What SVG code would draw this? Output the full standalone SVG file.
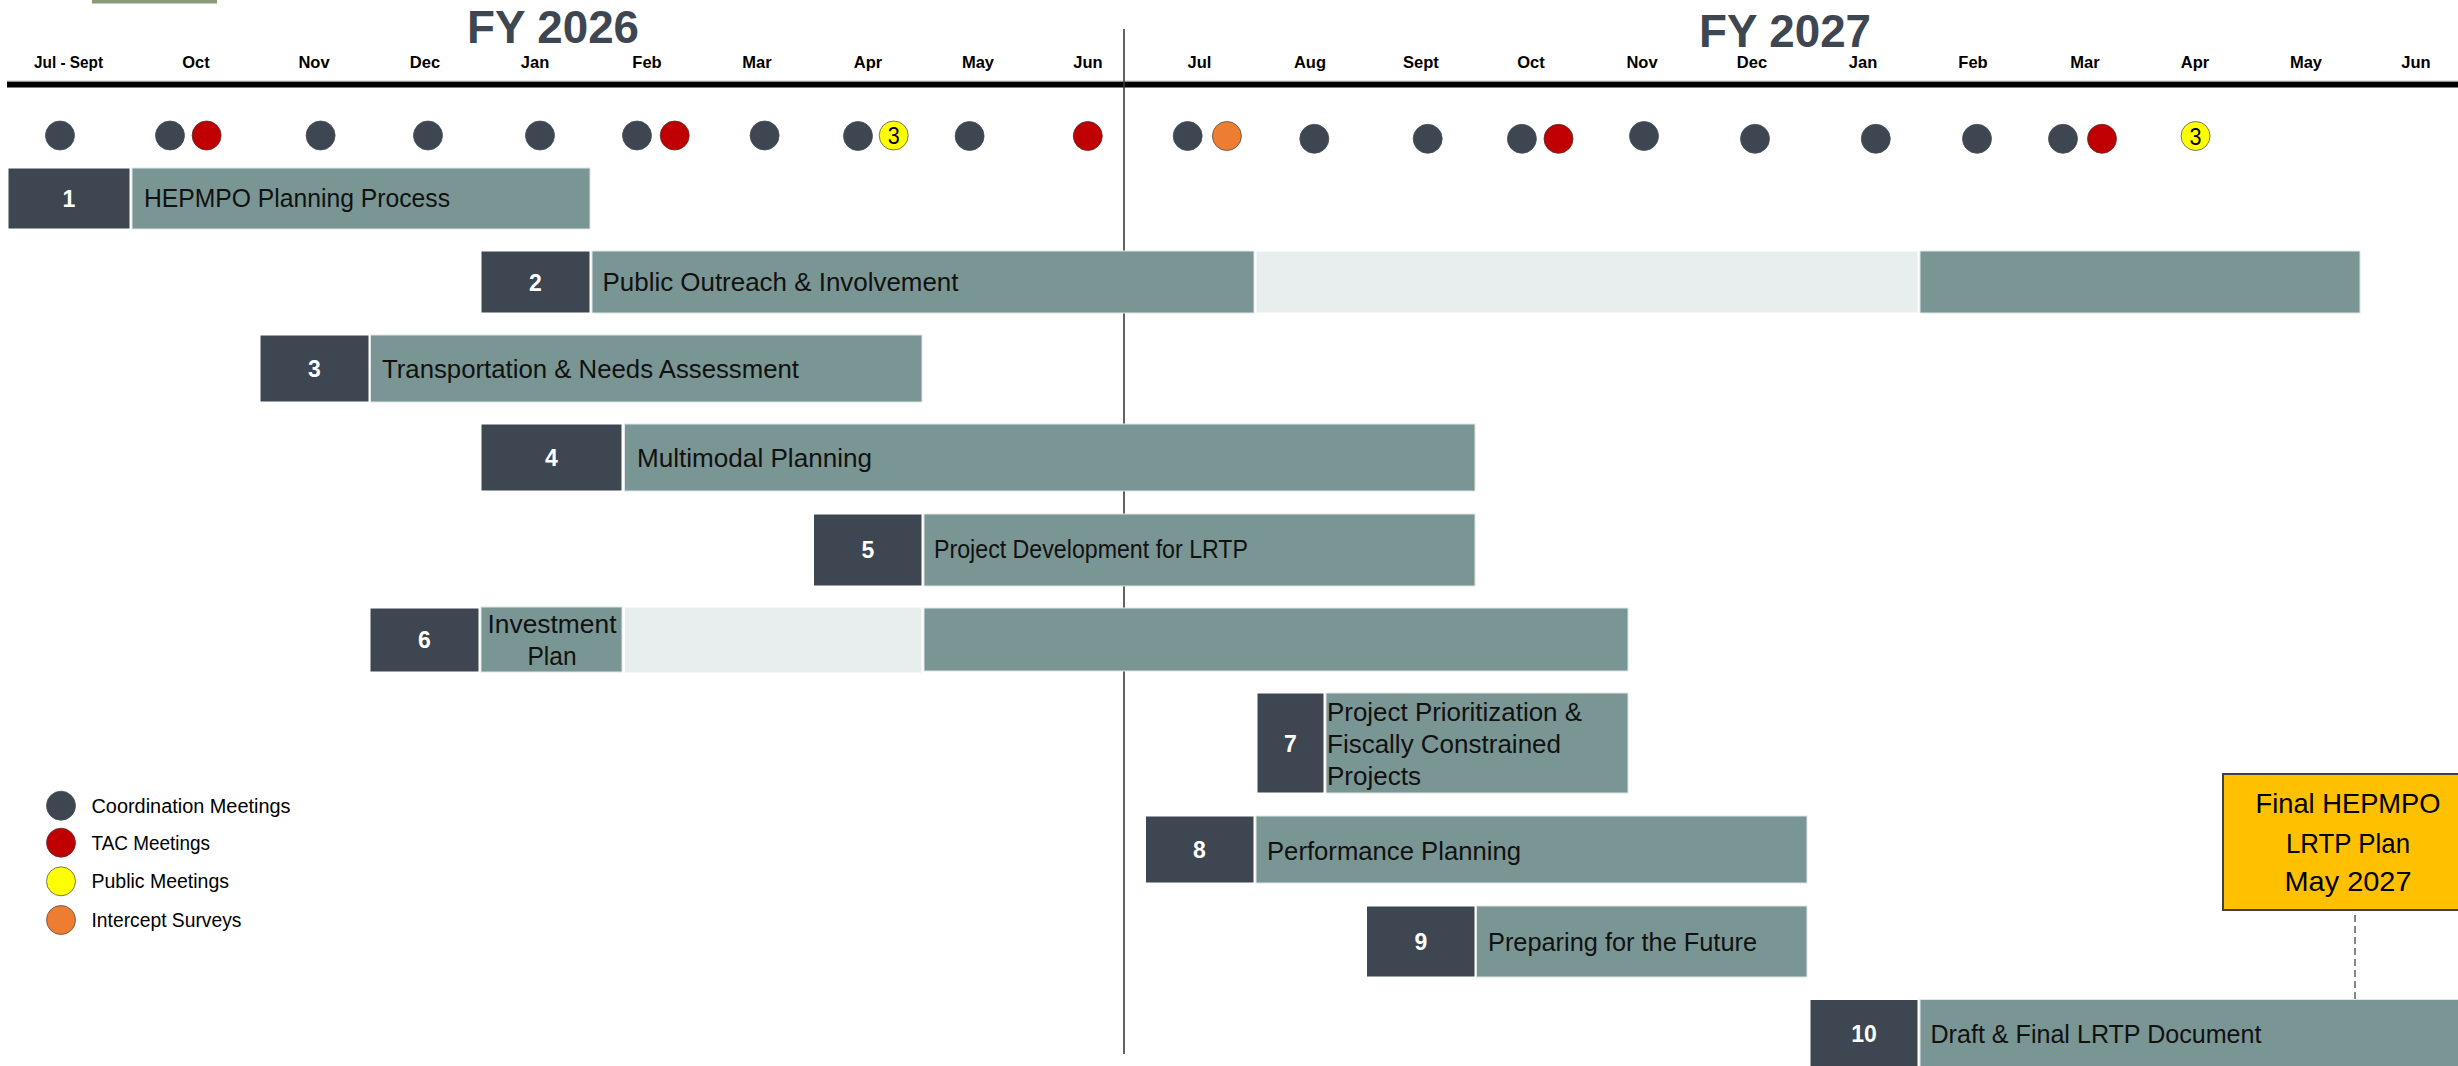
<svg xmlns="http://www.w3.org/2000/svg" width="2458" height="1066" viewBox="0 0 2458 1066">
<style>
.bg{fill:#ffffff}
.num{fill:#3d4651;stroke:#ffffff;stroke-width:1}
.bar{fill:#7a9694;stroke:#dfe6e5;stroke-width:1}
.lite{fill:#e8eeee;stroke:#ffffff;stroke-width:1}
.nt{font-family:"Liberation Sans",Arial,sans-serif;font-weight:bold;font-size:23px;fill:#ffffff;text-anchor:middle}
.lt{font-family:"Liberation Sans Narrow","Liberation Sans",Arial,sans-serif;font-size:25px;fill:#111111}
.mo{font-family:"Liberation Sans",Arial,sans-serif;font-weight:bold;font-size:16.5px;fill:#000000;text-anchor:middle}
.fy{font-family:"Liberation Sans",Arial,sans-serif;font-weight:bold;font-size:46px;fill:#3d4651;text-anchor:middle}
.lg{font-family:"Liberation Sans",Arial,sans-serif;font-size:19.5px;fill:#000000}
.fin{font-family:"Liberation Sans",Arial,sans-serif;font-size:27.5px;fill:#000000;text-anchor:middle}
.dk{fill:#3d4651;stroke:#4a4f55;stroke-width:0.8}
.rd{fill:#c00000;stroke:#5a3030;stroke-width:0.8}
.yl{fill:#ffff00;stroke:#555555;stroke-width:0.8}
.or{fill:#ed7d31;stroke:#5a4a40;stroke-width:0.8}
.three{font-family:"Liberation Sans Narrow","Liberation Sans",Arial,sans-serif;font-size:24px;fill:#000000;text-anchor:middle}
</style>
<rect class="bg" x="0" y="0" width="2458" height="1066"/>
<rect x="92" y="0" width="125" height="3.5" fill="#8a9b77"/>

<g id="header">
<text class="fy" x="553" y="43" textLength="172" lengthAdjust="spacingAndGlyphs">FY 2026</text>
<text class="fy" x="1785" y="46.5" textLength="172" lengthAdjust="spacingAndGlyphs">FY 2027</text>
<text class="mo" x="68.5" y="68" textLength="69" lengthAdjust="spacingAndGlyphs">Jul - Sept</text>
<text class="mo" x="196" y="68">Oct</text>
<text class="mo" x="314" y="68">Nov</text>
<text class="mo" x="425" y="68">Dec</text>
<text class="mo" x="535" y="68">Jan</text>
<text class="mo" x="647" y="68">Feb</text>
<text class="mo" x="757" y="68">Mar</text>
<text class="mo" x="868" y="68">Apr</text>
<text class="mo" x="978" y="68">May</text>
<text class="mo" x="1088" y="68">Jun</text>
<text class="mo" x="1199.5" y="68">Jul</text>
<text class="mo" x="1310" y="68">Aug</text>
<text class="mo" x="1421" y="68">Sept</text>
<text class="mo" x="1531" y="68">Oct</text>
<text class="mo" x="1642" y="68">Nov</text>
<text class="mo" x="1752" y="68">Dec</text>
<text class="mo" x="1863" y="68">Jan</text>
<text class="mo" x="1973" y="68">Feb</text>
<text class="mo" x="2085" y="68">Mar</text>
<text class="mo" x="2195" y="68">Apr</text>
<text class="mo" x="2306" y="68">May</text>
<text class="mo" x="2416" y="68">Jun</text>
<rect x="7" y="80.5" width="2451" height="1.2" fill="#c4c4c4"/>
<rect x="7" y="81.7" width="2451" height="5.8" fill="#000000"/>
<line x1="1124" y1="29" x2="1124" y2="1054" stroke="#3a3a3a" stroke-width="1.6"/>
</g>

<g id="meetings">
<circle class="dk" cx="60" cy="135.5" r="14.5"/>
<circle class="dk" cx="170" cy="135.5" r="14.5"/>
<circle class="rd" cx="206.6" cy="135.5" r="14.5"/>
<circle class="dk" cx="320.6" cy="135.5" r="14.5"/>
<circle class="dk" cx="428" cy="135.5" r="14.5"/>
<circle class="dk" cx="540" cy="135.5" r="14.5"/>
<circle class="dk" cx="637" cy="135.5" r="14.5"/>
<circle class="rd" cx="674.7" cy="135.5" r="14.5"/>
<circle class="dk" cx="764.6" cy="135.5" r="14.5"/>
<circle class="dk" cx="858" cy="136" r="14.5"/>
<circle class="yl" cx="893.7" cy="135.5" r="14.5"/>
<text class="three" x="893.7" y="144" textLength="12" lengthAdjust="spacingAndGlyphs">3</text>
<circle class="dk" cx="969.6" cy="136" r="14.5"/>
<circle class="rd" cx="1087.8" cy="136" r="14.5"/>
<circle class="dk" cx="1187.7" cy="136" r="14.5"/>
<circle class="or" cx="1226.9" cy="136" r="14.5"/>
<circle class="dk" cx="1314.3" cy="138.8" r="14.5"/>
<circle class="dk" cx="1427.7" cy="138.8" r="14.5"/>
<circle class="dk" cx="1521.9" cy="138.8" r="14.5"/>
<circle class="rd" cx="1558.5" cy="138.8" r="14.5"/>
<circle class="dk" cx="1644" cy="136" r="14.5"/>
<circle class="dk" cx="1755" cy="138.8" r="14.5"/>
<circle class="dk" cx="1875.8" cy="138.8" r="14.5"/>
<circle class="dk" cx="1977" cy="138.8" r="14.5"/>
<circle class="dk" cx="2063" cy="138.8" r="14.5"/>
<circle class="rd" cx="2102" cy="138.8" r="14.5"/>
<circle class="yl" cx="2195.6" cy="136" r="14.5"/>
<text class="three" x="2195.6" y="144.5" textLength="12" lengthAdjust="spacingAndGlyphs">3</text>
</g>

<g id="task1">
<rect class="num" x="8" y="168" width="122" height="61"/>
<rect class="bar" x="132" y="168" width="458" height="61"/>
<text class="nt" x="69" y="207">1</text>
<text class="lt" x="144" y="207" textLength="306" lengthAdjust="spacingAndGlyphs">HEPMPO Planning Process</text>
</g>

<g id="task2">
<rect class="num" x="481" y="251" width="109" height="62"/>
<rect class="bar" x="592" y="251" width="662" height="62"/>
<rect class="lite" x="1256" y="251" width="662" height="62"/>
<rect class="bar" x="1920" y="251" width="440" height="62"/>
<text class="nt" x="535.5" y="290.5">2</text>
<text class="lt" x="602.5" y="291" textLength="356" lengthAdjust="spacingAndGlyphs">Public Outreach &amp; Involvement</text>
</g>

<g id="task3">
<rect class="num" x="260" y="335" width="109" height="67"/>
<rect class="bar" x="370.5" y="335" width="551.5" height="67"/>
<text class="nt" x="314.5" y="377">3</text>
<text class="lt" x="382" y="378" textLength="417" lengthAdjust="spacingAndGlyphs">Transportation &amp; Needs Assessment</text>
</g>

<g id="task4">
<rect class="num" x="481" y="424" width="141" height="67"/>
<rect class="bar" x="624.5" y="424" width="850.5" height="67"/>
<text class="nt" x="551.5" y="466">4</text>
<text class="lt" x="637" y="467" textLength="235" lengthAdjust="spacingAndGlyphs">Multimodal Planning</text>
</g>

<g id="task5">
<rect class="num" x="813.5" y="514" width="108.5" height="72"/>
<rect class="bar" x="924" y="514" width="551" height="72"/>
<text class="nt" x="868" y="558">5</text>
<text class="lt" x="934" y="558" textLength="314" lengthAdjust="spacingAndGlyphs">Project Development for LRTP</text>
</g>

<g id="task6">
<rect class="num" x="370" y="608" width="109" height="64"/>
<rect class="bar" x="481" y="607" width="141" height="65"/>
<rect class="lite" x="624.5" y="607" width="297.5" height="66"/>
<rect class="bar" x="924" y="608" width="704" height="63"/>
<text class="nt" x="424.5" y="648">6</text>
<text class="lt" x="552" y="633" text-anchor="middle" textLength="129" lengthAdjust="spacingAndGlyphs">Investment</text>
<text class="lt" x="552" y="665" text-anchor="middle" textLength="49" lengthAdjust="spacingAndGlyphs">Plan</text>
</g>

<g id="task7">
<rect class="num" x="1257" y="693" width="67" height="100"/>
<rect class="bar" x="1326" y="693" width="302" height="100"/>
<text class="nt" x="1290.5" y="752">7</text>
<text class="lt" x="1327" y="721" textLength="255" lengthAdjust="spacingAndGlyphs">Project Prioritization &amp;</text>
<text class="lt" x="1327" y="753" textLength="234" lengthAdjust="spacingAndGlyphs">Fiscally Constrained</text>
<text class="lt" x="1327" y="785" textLength="94" lengthAdjust="spacingAndGlyphs">Projects</text>
</g>

<g id="task8">
<rect class="num" x="1145.5" y="816" width="108.5" height="67"/>
<rect class="bar" x="1256" y="816" width="551" height="67"/>
<text class="nt" x="1199.5" y="858">8</text>
<text class="lt" x="1267" y="860" textLength="254" lengthAdjust="spacingAndGlyphs">Performance Planning</text>
</g>

<g id="task9">
<rect class="num" x="1366.5" y="906" width="108.5" height="71"/>
<rect class="bar" x="1476.5" y="906" width="330.5" height="71"/>
<text class="nt" x="1421" y="950">9</text>
<text class="lt" x="1488" y="951" textLength="269" lengthAdjust="spacingAndGlyphs">Preparing for the Future</text>
</g>

<g id="task10">
<rect class="num" x="1810" y="999.5" width="108" height="70"/>
<rect class="bar" x="1920" y="999.5" width="545" height="70"/>
<text class="nt" x="1864" y="1042">10</text>
<text class="lt" x="1930.5" y="1043" textLength="331" lengthAdjust="spacingAndGlyphs">Draft &amp; Final LRTP Document</text>
</g>

<g id="connectors">
<line x1="2355" y1="915" x2="2355" y2="1003" stroke="#555555" stroke-width="1.4" stroke-dasharray="7,4"/>
</g>

<g id="final-plan">
<rect x="2223" y="774" width="245" height="136" fill="#ffc000" stroke="#404040" stroke-width="2"/>
<text class="fin" x="2348" y="813" textLength="185" lengthAdjust="spacingAndGlyphs">Final HEPMPO</text>
<text class="fin" x="2348" y="853" textLength="124" lengthAdjust="spacingAndGlyphs">LRTP Plan</text>
<text class="fin" x="2348" y="891" textLength="127" lengthAdjust="spacingAndGlyphs">May 2027</text>
</g>

<g id="legend">
<g id="legend-coordination">
<circle class="dk" cx="61" cy="805.7" r="14.5"/>
<text class="lg" x="91.5" y="812.7" textLength="199" lengthAdjust="spacingAndGlyphs">Coordination Meetings</text>
</g>
<g id="legend-tac">
<circle class="rd" cx="61" cy="842.7" r="14.5"/>
<text class="lg" x="91.5" y="850" textLength="118.5" lengthAdjust="spacingAndGlyphs">TAC Meetings</text>
</g>
<g id="legend-public">
<circle class="yl" cx="61" cy="881.3" r="14.5"/>
<text class="lg" x="91.5" y="888" textLength="137.5" lengthAdjust="spacingAndGlyphs">Public Meetings</text>
</g>
<g id="legend-intercept">
<circle class="or" cx="61" cy="920" r="14.5"/>
<text class="lg" x="91.5" y="926.5" textLength="150" lengthAdjust="spacingAndGlyphs">Intercept Surveys</text>
</g>
</g>
</svg>
